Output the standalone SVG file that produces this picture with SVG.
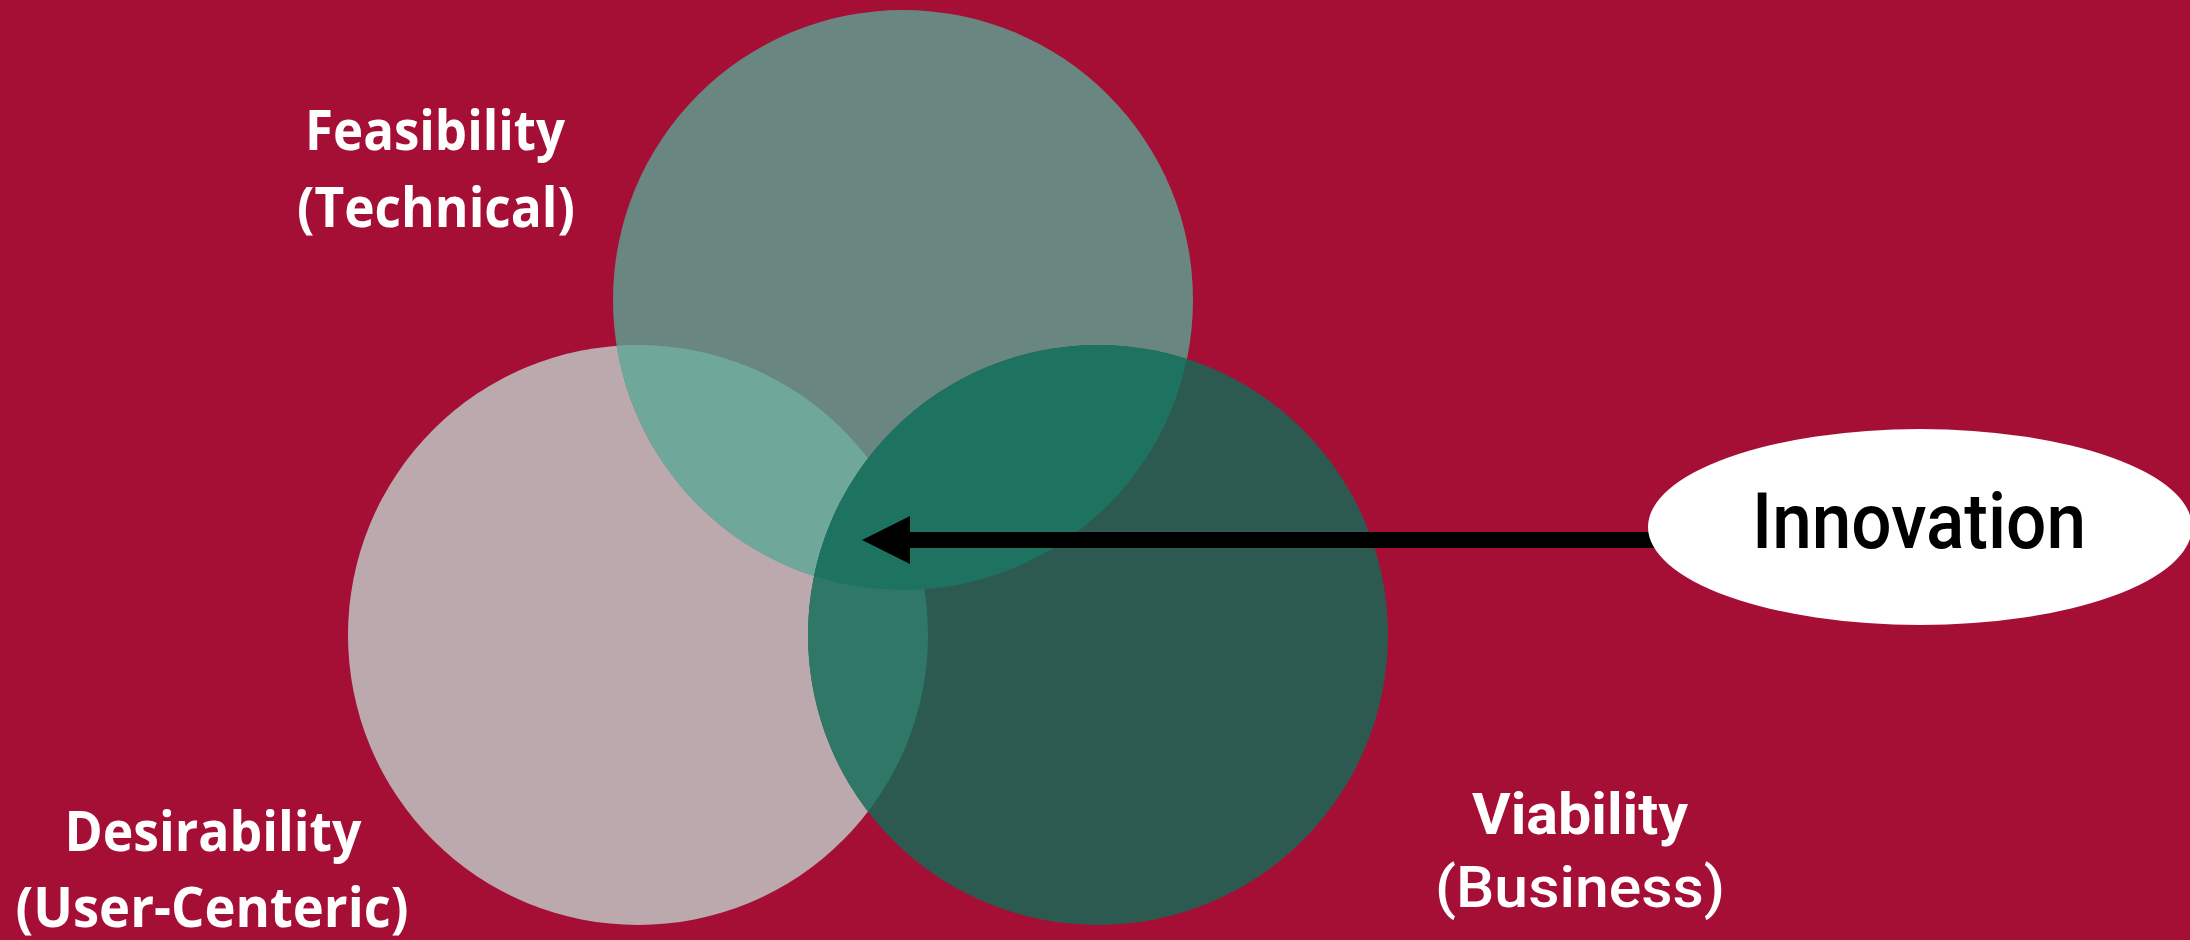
<svg xmlns="http://www.w3.org/2000/svg" width="2190" height="940" viewBox="0 0 2190 940">
<style>
.lbl{font-family:"Open Sans","Liberation Sans",sans-serif;font-weight:700;font-size:55px;fill:#ffffff;text-anchor:middle}
.lbl2{font-family:Roboto,"Liberation Sans",sans-serif;font-size:58px;fill:#ffffff;text-anchor:middle}
</style>
<defs>
<clipPath id="cT"><circle cx="903" cy="300" r="290"/></clipPath>
<clipPath id="cL"><circle cx="638" cy="635" r="290"/></clipPath>
<clipPath id="cR"><circle cx="1098" cy="635" r="290"/></clipPath>
</defs>
<rect width="2190" height="940" fill="#A50F36"/>
<g id="desirability">
<circle cx="638" cy="635" r="290" fill="#BCA9AE"/>
</g>
<g id="feasibility">
<circle cx="903" cy="300" r="290" fill="#6A8680"/>
<g clip-path="url(#cL)"><circle cx="903" cy="300" r="290" fill="#6FA89A"/></g>
</g>
<g id="viability">
<circle cx="1098" cy="635" r="290" fill="#2D5A50"/>
<g clip-path="url(#cT)"><circle cx="1098" cy="635" r="290" fill="#1E7260"/></g>
<g clip-path="url(#cL)"><circle cx="1098" cy="635" r="290" fill="#2F7868"/></g>
<g clip-path="url(#cL)"><g clip-path="url(#cT)"><circle cx="1098" cy="635" r="290" fill="#1E7360"/></g></g>
</g>
<g id="labels">
<text class="lbl" x="435" y="150" textLength="260" lengthAdjust="spacingAndGlyphs">Feasibility</text>
<text class="lbl" x="436" y="227" textLength="278" lengthAdjust="spacingAndGlyphs">(Technical)</text>
<text class="lbl" x="213" y="851" textLength="297" lengthAdjust="spacingAndGlyphs">Desirability</text>
<text class="lbl" x="212" y="927" textLength="393" lengthAdjust="spacingAndGlyphs">(User-Centeric)</text>
<text class="lbl2" x="1580" y="834" font-weight="700" textLength="216" lengthAdjust="spacingAndGlyphs">Viability</text>
<text class="lbl2" x="1580" y="907" font-weight="500" textLength="290" lengthAdjust="spacingAndGlyphs">(Business)</text>
</g>
<g id="connectors">
<rect x="905" y="532" width="760" height="16" fill="#000000"/>
<polygon points="862,540 910,516 910,564" fill="#000000"/>
</g>
<g id="innovation">
<ellipse cx="1920" cy="527" rx="272" ry="98" fill="#ffffff"/>
<text x="1919" y="548" font-family="Roboto,'Liberation Sans',sans-serif" font-weight="500" font-size="78" fill="#000000" text-anchor="middle" textLength="334" lengthAdjust="spacingAndGlyphs">Innovation</text>
</g>
</svg>
